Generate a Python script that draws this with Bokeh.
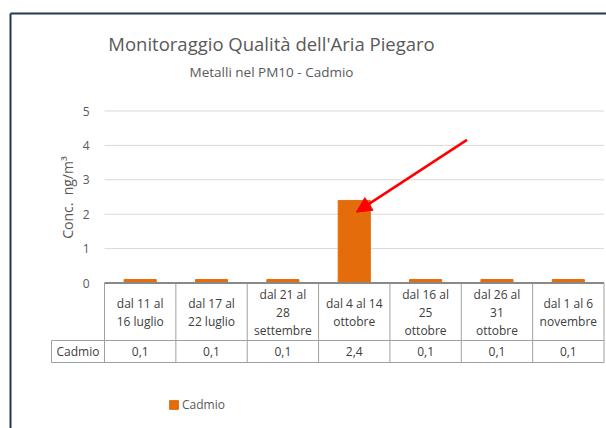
import math
from bokeh.plotting import figure
from bokeh.models import Range1d, Arrow, NormalHead, Legend, LegendItem
from bokeh.core.properties import value
from bokeh.embed import file_html
from bokeh.resources import INLINE

# ---------------- data ----------------
categories = [
    "dal 11 al\n16 luglio",
    "dal 17 al\n22 luglio",
    "dal 21 al\n28\nsettembre",
    "dal 4 al 14\nottobre",
    "dal 16 al\n25\nottobre",
    "dal 26 al\n31\nottobre",
    "dal 1 al 6\nnovembre",
]
series_name = "Cadmio"
cadmio = [0.1, 0.1, 0.1, 2.4, 0.1, 0.1, 0.1]
y_ticks = [0, 1, 2, 3, 4, 5]
title_text = "Monitoraggio Qualità dell'Aria Piegaro"
subtitle_text = "Metalli nel PM10 - Cadmio"
y_label = "Conc.\u00a0 ng/m\u00b3"

# ---------------- layout (pixels) ----------------
FONT = "Open Sans"
W, H = 606, 428
OFF = 0
PLOT_L, PLOT_R = 104.0, 603.5
PLOT_T, PLOT_B = 110.5, 282.5
YMAX = 5
n = len(categories)
xunit = (PLOT_R - PLOT_L) / n
yunit = (PLOT_B - PLOT_T) / YMAX

p = figure(
    width=W, height=H, output_backend="svg", toolbar_location=None,
    x_axis_type=None, y_axis_type=None, min_border=0,
    x_range=Range1d(-(PLOT_L - OFF) / xunit, n + (OFF + W - PLOT_R) / xunit),
    y_range=Range1d(-(OFF + H - PLOT_B) / yunit, YMAX + (PLOT_T - OFF) / yunit),
)
p.extra_x_ranges = {"px": Range1d(OFF, OFF + W)}
p.extra_y_ranges = {"py": Range1d(OFF + H, OFF)}
p.outline_line_color = None
p.background_fill_color = "white"
p.border_fill_color = "white"

# chart frame border (cropped at right and bottom)
p.multi_line(xs=[[10, 10], [10, 606]], ys=[[428, 13], [13, 13]],
             x_range_name="px", y_range_name="py",
             line_color="#243852", line_width=2)

# titles
p.text(x=[271], y=[43], text=[title_text], x_range_name="px", y_range_name="py",
       text_font=value(FONT), text_font_size="18.5px", text_color="#595959",
       text_align="center", text_baseline="middle")
p.text(x=[271], y=[71], text=[subtitle_text], x_range_name="px", y_range_name="py",
       text_font=value(FONT), text_font_size="13.5px", text_color="#595959",
       text_align="center", text_baseline="middle")

# gridlines
p.segment(x0=[0] * len(y_ticks), x1=[n] * len(y_ticks), y0=y_ticks, y1=y_ticks,
          line_color="#d9d9d9", line_width=1)

# y tick labels
p.text(x=[89] * len(y_ticks), y=y_ticks, text=[str(t) for t in y_ticks],
       x_range_name="px", text_font=value(FONT), text_font_size="12px",
       text_color="#595959", text_align="right", text_baseline="middle")

# y axis title
p.text(x=[67], y=[197], text=[y_label], x_range_name="px", y_range_name="py",
       angle=math.pi / 2, text_font=value(FONT), text_font_size="14px",
       text_color="#595959", text_align="center", text_baseline="middle")

# bars
xs = [i + 0.5 for i in range(n)]
bars = p.vbar(x=xs, top=cadmio, bottom=0, width=0.45,
              fill_color="#E46C0A", line_color="#E46C0A", line_width=1)

# data table
ROW1_B = 340.0
ROW2_B = 362.0
TBL_L = 51.0
TCOL = "#a0a0a0"
p.segment(x0=list(range(n + 1)), x1=list(range(n + 1)),
          y0=[PLOT_B] * (n + 1), y1=[ROW2_B] * (n + 1),
          y_range_name="py", line_color=TCOL, line_width=1)
p.segment(x0=[TBL_L, TBL_L, TBL_L], x1=[PLOT_R, PLOT_R, TBL_L],
          y0=[ROW1_B, ROW2_B, ROW1_B], y1=[ROW1_B, ROW2_B, ROW2_B],
          x_range_name="px", y_range_name="py", line_color=TCOL, line_width=1)
# category axis line
p.segment(x0=[0], x1=[n], y0=[0], y1=[0], line_color="#898989", line_width=2)

p.text(x=xs, y=[(PLOT_B + ROW1_B) / 2 + 0.5] * n, text=categories, y_range_name="py",
       text_font=value(FONT), text_font_size="12px", text_color="#404040",
       text_align="center", text_baseline="middle", text_line_height=1.05)
p.text(x=xs, y=[(ROW1_B + ROW2_B) / 2] * n,
       text=[f"{v:.1f}".replace(".", ",") for v in cadmio], y_range_name="py",
       text_font=value(FONT), text_font_size="12px", text_color="#404040",
       text_align="center", text_baseline="middle")
p.text(x=[(TBL_L + PLOT_L) / 2], y=[(ROW1_B + ROW2_B) / 2], text=[series_name],
       x_range_name="px", y_range_name="py",
       text_font=value(FONT), text_font_size="12px", text_color="#404040",
       text_align="center", text_baseline="middle")

# red arrow pointing at the peak
p.add_layout(Arrow(end=NormalHead(size=15, fill_color="#ff0000", line_color="#ff0000"),
                   x_start=5.08, y_start=4.16, x_end=3.53, y_end=2.06,
                   line_color="#ff0000", line_width=2.5))

# legend
legend = Legend(items=[LegendItem(label=series_name, renderers=[bars])],
                location=(168, 15.5), orientation="horizontal",
                glyph_width=11, glyph_height=11, label_standoff=3,
                padding=0, margin=0, spacing=0,
                border_line_alpha=0, background_fill_alpha=0,
                label_text_font=FONT, label_text_font_size="12px",
                label_text_color="#595959")
p.add_layout(legend)

open("out.html", "w").write(file_html(p, INLINE))
